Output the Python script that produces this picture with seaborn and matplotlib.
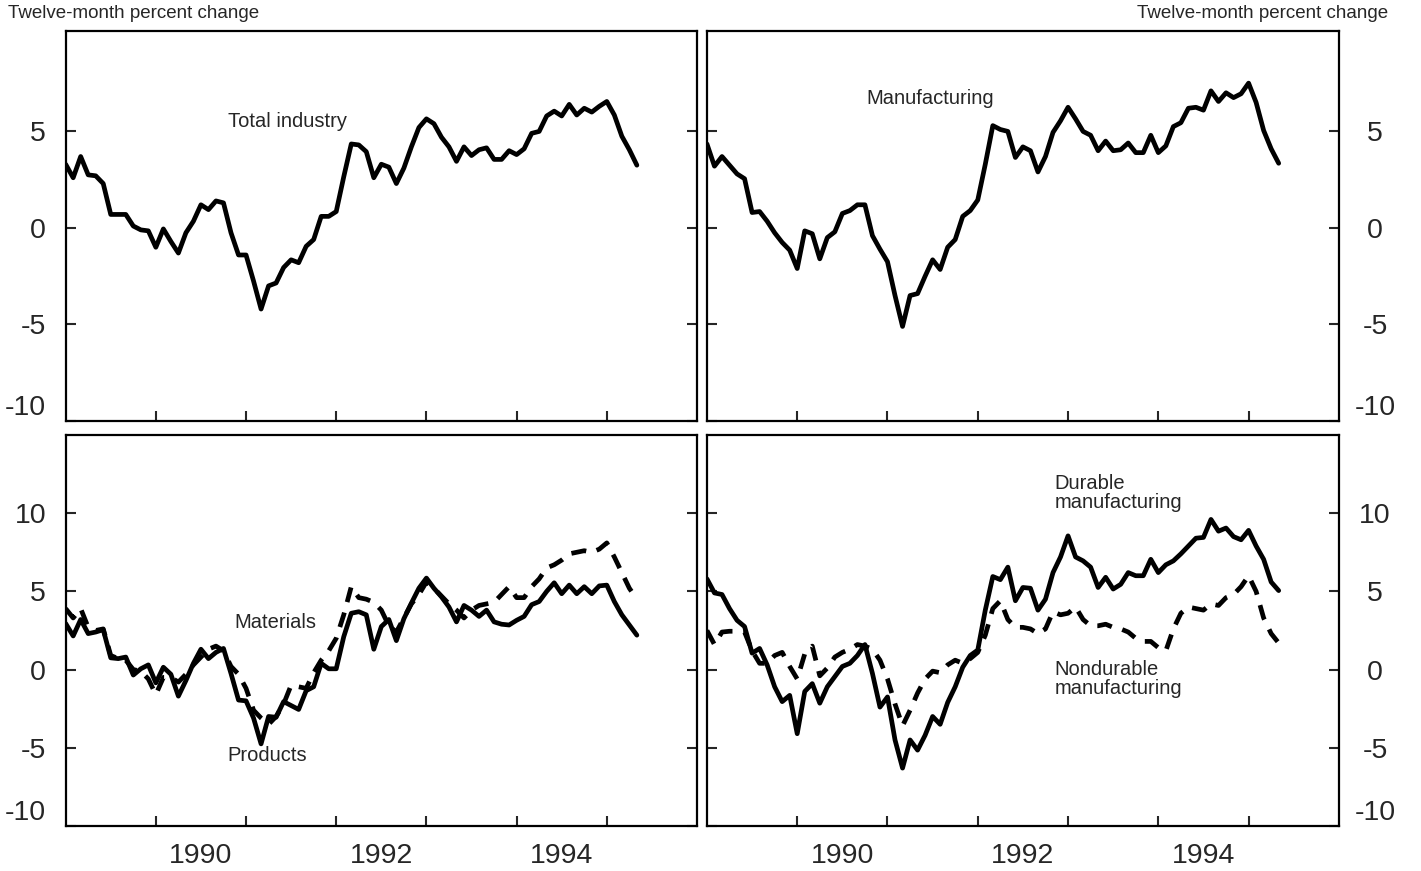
import pandas as pd
import matplotlib
matplotlib.use('Agg')
import matplotlib.pyplot as plt
import seaborn as sns

# monthly, Jan 1989 - May 1995, twelve-month percent change
months = pd.date_range('1989-01-01', periods=77, freq='MS')

total_industry = [3.3, 2.6, 3.7, 2.75, 2.7, 2.3, 0.7, 0.7, 0.7, 0.1, -0.1, -0.15,
                  -1.0, -0.05, -0.7, -1.3, -0.25, 0.35, 1.2, 0.95, 1.4, 1.3, -0.25, -1.4,
                  -1.4, -2.75, -4.2, -3.0, -2.85, -2.05, -1.65, -1.8, -0.95, -0.6, 0.6, 0.6,
                  0.85, 2.65, 4.35, 4.3, 3.95, 2.6, 3.3, 3.15, 2.3, 3.1, 4.2, 5.2,
                  5.65, 5.4, 4.7, 4.2, 3.45, 4.2, 3.75, 4.05, 4.15, 3.55, 3.55, 4.0,
                  3.8, 4.1, 4.9, 5.0, 5.8, 6.05, 5.8, 6.4, 5.85, 6.2, 6.0, 6.3,
                  6.55, 5.85, 4.75, 4.05, 3.25]

manufacturing = [4.35, 3.2, 3.7, 3.25, 2.8, 2.55, 0.8, 0.85, 0.35, -0.25, -0.75, -1.15,
                 -2.1, -0.15, -0.3, -1.6, -0.5, -0.2, 0.75, 0.9, 1.2, 1.2, -0.4, -1.1,
                 -1.75, -3.5, -5.1, -3.5, -3.4, -2.5, -1.65, -2.15, -1.0, -0.6, 0.6, 0.9,
                 1.45, 3.3, 5.3, 5.1, 5.0, 3.65, 4.2, 4.0, 2.9, 3.7, 4.95, 5.55,
                 6.25, 5.65, 5.0, 4.8, 4.0, 4.5, 4.0, 4.05, 4.4, 3.9, 3.9, 4.8,
                 3.9, 4.25, 5.25, 5.45, 6.2, 6.25, 6.1, 7.1, 6.55, 7.0, 6.75, 6.95,
                 7.5, 6.5, 5.05, 4.1, 3.35]

products = [2.95, 2.15, 3.2, 2.3, 2.4, 2.55, 0.75, 0.7, 0.8, -0.35, 0.05, 0.3,
            -0.85, 0.15, -0.3, -1.7, -0.7, 0.4, 1.3, 0.7, 1.1, 1.35, -0.25, -1.95,
            -2.0, -3.1, -4.75, -3.0, -3.05, -2.05, -2.3, -2.55, -1.35, -1.1, 0.4, 0.05,
            0.05, 2.1, 3.6, 3.7, 3.5, 1.3, 2.75, 3.2, 1.85, 3.25, 4.25, 5.2,
            5.85, 5.2, 4.65, 4.0, 3.05, 4.1, 3.8, 3.4, 3.8, 3.05, 2.9, 2.85,
            3.15, 3.4, 4.15, 4.35, 5.0, 5.55, 4.85, 5.4, 4.85, 5.3, 4.85, 5.35,
            5.4, 4.35, 3.5, 2.85, 2.2]

materials = [3.9, 3.3, 3.9, 2.7, 2.5, 2.6, 0.9, 0.7, 0.6, 0.0, -0.1, -0.6,
             -1.6, -0.5, -0.5, -0.8, -0.3, 0.3, 0.8, 1.3, 1.5, 1.2, 0.2, -0.3,
             -1.2, -2.6, -3.1, -3.5, -3.0, -2.2, -1.0, -1.1, -1.2, -0.2, 0.6, 1.2,
             2.0, 3.5, 5.3, 4.6, 4.5, 4.3, 3.8, 2.8, 2.4, 3.3, 4.2, 4.8,
             5.6, 5.2, 4.7, 4.2, 3.8, 3.3, 3.8, 4.1, 4.2, 4.3, 4.8, 5.3,
             4.6, 4.6, 5.3, 5.8, 6.5, 6.7, 7.0, 7.4, 7.5, 7.6, 7.5, 7.7,
             8.1, 7.2, 6.2, 5.2, 4.5]

durable = [5.8, 4.9, 4.8, 3.9, 3.15, 2.75, 1.05, 1.35, 0.3, -1.1, -2.05, -1.65,
           -4.1, -1.4, -0.9, -2.15, -1.1, -0.45, 0.2, 0.4, 0.9, 1.6, -0.25, -2.4,
           -1.75, -4.5, -6.3, -4.5, -5.15, -4.2, -3.0, -3.5, -2.1, -1.1, 0.15, 0.9,
           1.25, 3.8, 5.95, 5.75, 6.55, 4.4, 5.25, 5.2, 3.8, 4.5, 6.2, 7.2,
           8.55, 7.2, 6.95, 6.55, 5.25, 5.9, 5.15, 5.45, 6.2, 6.0, 6.0, 7.05,
           6.2, 6.7, 6.95, 7.4, 7.9, 8.4, 8.45, 9.6, 8.85, 9.05, 8.5, 8.3,
           8.9, 7.9, 7.05, 5.6, 5.05]

nondurable = [2.5, 1.6, 2.4, 2.45, 2.45, 2.4, 1.2, 0.4, 0.4, 0.9, 1.1, 0.2,
              -0.6, 1.0, 1.5, -0.4, 0.1, 0.8, 1.1, 1.3, 1.6, 1.5, 1.3, 0.6,
              -0.6, -2.2, -3.6, -2.6, -1.5, -0.6, -0.1, -0.2, 0.3, 0.6, 0.4, 0.7,
              1.1, 2.2, 3.9, 4.4, 3.2, 2.7, 2.7, 2.6, 2.3, 2.6, 3.7, 3.5,
              3.6, 4.0, 3.2, 2.8, 2.8, 2.9, 2.7, 2.6, 2.4, 2.0, 1.8, 1.8,
              1.4, 1.2, 2.6, 3.6, 4.0, 3.9, 3.8, 4.2, 4.1, 4.6, 4.8, 5.3,
              6.0, 5.0, 3.3, 2.3, 1.7]

year_ticks = [1990, 1991, 1992, 1993, 1994, 1995]
year_labels = ['1990', '1992', '1994']
year_label_pos = [1990.5, 1992.5, 1994.5]
top_yticks = [-10, -5, 0, 5]
bottom_yticks = [-10, -5, 0, 5, 10]

df = pd.DataFrame({
    'year': months.year + (months.month - 1) / 12,
    'total_industry': total_industry,
    'manufacturing': manufacturing,
    'products': products,
    'materials': materials,
    'durable': durable,
    'nondurable': nondurable,
})

sns.set_style('white')
plt.rcParams['font.family'] = ['Liberation Sans', 'DejaVu Sans']

fig = plt.figure(figsize=(14.21, 8.71), dpi=100)
ax_tl = fig.add_axes([0.0462, 0.5166, 0.4443, 0.4478])
ax_tr = fig.add_axes([0.4975, 0.5166, 0.4447, 0.4478])
ax_bl = fig.add_axes([0.0462, 0.0517, 0.4443, 0.4489])
ax_br = fig.add_axes([0.4975, 0.0517, 0.4447, 0.4489])

LW = 3.4
DASH = (0, (3.2, 2.3))

sns.lineplot(data=df, x='year', y='total_industry', ax=ax_tl, color='black', linewidth=LW)
sns.lineplot(data=df, x='year', y='manufacturing', ax=ax_tr, color='black', linewidth=LW)
sns.lineplot(data=df, x='year', y='materials', ax=ax_bl, color='black', linewidth=LW, linestyle=DASH)
sns.lineplot(data=df, x='year', y='products', ax=ax_bl, color='black', linewidth=LW)
sns.lineplot(data=df, x='year', y='nondurable', ax=ax_br, color='black', linewidth=LW, linestyle=DASH)
sns.lineplot(data=df, x='year', y='durable', ax=ax_br, color='black', linewidth=LW)


def style_axes(ax, ylim, yticks, side, xlabels):
    ax.set_xlim(1989, 1996)
    ax.set_ylim(*ylim)
    ax.set_xlabel('')
    ax.set_ylabel('')
    ax.set_xticks(year_ticks)
    ax.set_xticklabels([])
    ax.tick_params(axis='x', which='major', direction='in', length=7, width=1.5,
                   bottom=True, top=False)
    if xlabels:
        ax.set_xticks(year_label_pos, minor=True)
        ax.set_xticklabels(year_labels, minor=True)
        ax.tick_params(axis='x', which='minor', length=0, pad=12, labelsize=20.5)
    ax.set_yticks(yticks)
    ax.set_yticklabels([str(t) for t in yticks])
    ax.tick_params(axis='y', direction='in', length=7, width=1.5, left=True, right=True,
                   labelsize=20.5)
    if side == 'left':
        ax.tick_params(axis='y', labelleft=True, labelright=False, pad=14)
    else:
        ax.tick_params(axis='y', labelleft=False, labelright=True, pad=26)
    for tick in ax.yaxis.get_major_ticks():
        if side == 'right':
            tick.label2.set_horizontalalignment('center')
    first = ax.yaxis.get_major_ticks()[0]
    first.label1.set_verticalalignment('bottom')
    first.label2.set_verticalalignment('bottom')
    for spine in ax.spines.values():
        spine.set_linewidth(1.6)
        spine.set_color('black')


style_axes(ax_tl, (-10, 10.2), top_yticks, 'left', False)
style_axes(ax_tr, (-10, 10.2), top_yticks, 'right', False)
style_axes(ax_bl, (-10, 15), bottom_yticks, 'left', True)
style_axes(ax_br, (-10, 15), bottom_yticks, 'right', True)

ax_tl.text(1991.46, 5.5, 'Total industry', ha='center', va='center', fontsize=14.5)
ax_tr.text(1991.47, 6.7, 'Manufacturing', ha='center', va='center', fontsize=14.5)
ax_bl.text(1991.32, 3.0, 'Materials', ha='center', va='center', fontsize=14.5)
ax_bl.text(1991.24, -5.5, 'Products', ha='center', va='center', fontsize=14.5)
ax_br.text(1992.85, 11.3, 'Durable\nmanufacturing', ha='left', va='center',
           fontsize=14.5, linespacing=1.0)
ax_br.text(1992.85, -0.6, 'Nondurable\nmanufacturing', ha='left', va='center',
           fontsize=14.5, linespacing=1.0)

fig.text(8 / 1421, 1 - 14 / 871, 'Twelve-month percent change', ha='left', va='center',
         fontsize=13.5)
fig.text(1388 / 1421, 1 - 14 / 871, 'Twelve-month percent change', ha='right', va='center',
         fontsize=13.5)

fig.savefig('out.png', dpi=100)
